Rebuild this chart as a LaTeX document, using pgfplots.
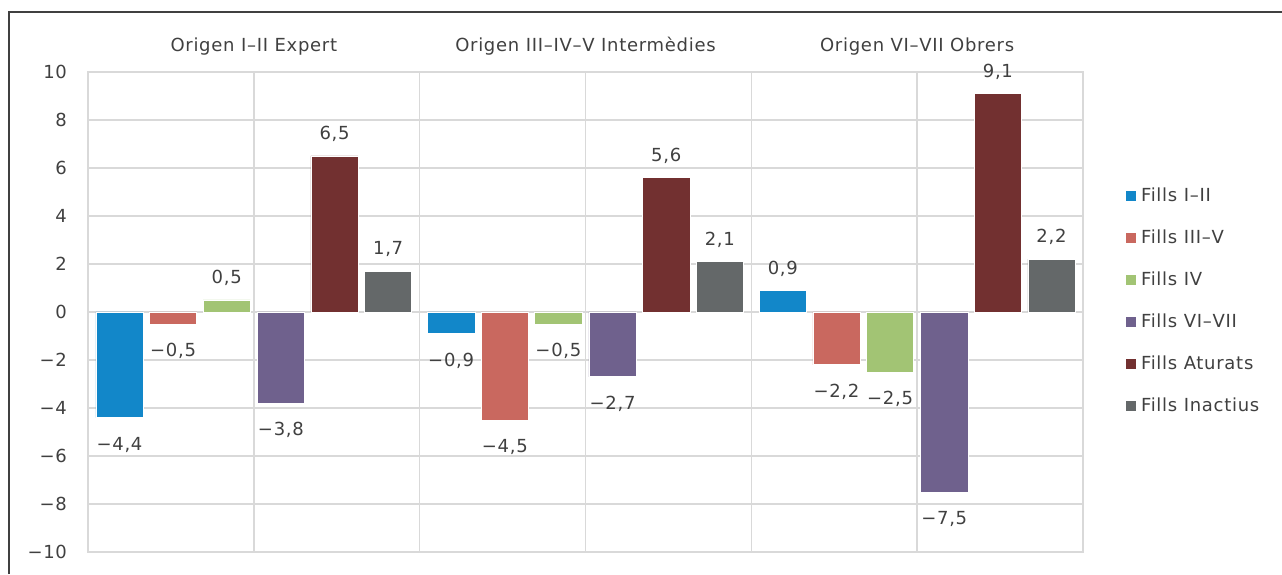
\documentclass[border=0pt]{standalone}
\usepackage{pgfplots}
\pgfplotsset{compat=1.18}
\usepackage{fontspec}
\setmainfont{DejaVu Sans}[LetterSpace=4]
\definecolor{cBlue}{RGB}{18,135,201}
\definecolor{cRed}{RGB}{201,104,95}
\definecolor{cGreen}{RGB}{162,196,116}
\definecolor{cPurple}{RGB}{111,97,141}
\definecolor{cMaroon}{RGB}{114,48,48}
\definecolor{cGray}{RGB}{100,104,105}
\definecolor{cText}{RGB}{64,64,64}
\definecolor{cGrid}{RGB}{217,217,217}
\begin{document}
\begin{tikzpicture}[font=\fontsize{9}{11}\selectfont]
\useasboundingbox (-44pt,-11pt) rectangle (597pt,276pt);
\begin{axis}[
  at={(0pt,0pt)}, anchor=south west,
  scale only axis, width=497.5pt, height=240pt,
  xmin=0, xmax=18, ymin=-10, ymax=10,
  ybar, bar width=0.855, bar shift=0pt,
  ytick={-10,-8,...,10},
  yticklabels={−10,−8,−6,−4,−2,0,2,4,6,8,10},
  xtick={3,6,9,12,15}, xticklabels={},
  major tick length=0pt,
  xmajorgrids, ymajorgrids,
  grid style={cGrid, line width=0.75pt},
  axis line style={cGrid, line width=0.75pt},
  tick label style={text=cText},
  yticklabel style={xshift=-7pt},
  clip=false,
  point meta=explicit symbolic,
  visualization depends on={y \as \rawy},
  nodes near coords,
  every node near coord/.append style={text=cText, inner xsep=0pt, inner ysep=6.5pt,
    anchor=\ifdim\rawy pt<0pt north\else south\fi,
    yshift=\ifdim\rawy pt<0pt -3pt\else 0.5pt\fi},
  legend style={draw=none, fill=none, at={(rel axis cs:1,1)}, anchor=north west,
    xshift=18pt, yshift=-53.5pt, row sep=8.7pt, text=cText,
    /tikz/every even column/.append style={column sep=0pt}},
  legend cell align=left,
  legend image code/.code={\fill[#1] (0pt,-2.75pt) rectangle (5.5pt,2.75pt);},
]
\addplot[fill=cBlue, draw=white, line width=0.3pt] coordinates {(0.57,-4.4) [−4,4] (6.57,-0.9) [−0,9] (12.57,0.9) [0,9]};
\addlegendentry{Fills I–II}
\addplot[fill=cRed, draw=white, line width=0.3pt] coordinates {(1.54,-0.5) [−0,5] (7.54,-4.5) [−4,5] (13.54,-2.2) [−2,2]};
\addlegendentry{Fills III–V}
\addplot[fill=cGreen, draw=white, line width=0.3pt] coordinates {(2.51,0.5) [0,5] (8.51,-0.5) [−0,5] (14.51,-2.5) [−2,5]};
\addlegendentry{Fills IV}
\addplot[fill=cPurple, draw=white, line width=0.3pt] coordinates {(3.49,-3.8) [−3,8] (9.49,-2.7) [−2,7] (15.49,-7.5) [−7,5]};
\addlegendentry{Fills VI–VII}
\addplot[fill=cMaroon, draw=white, line width=0.3pt] coordinates {(4.46,6.5) [6,5] (10.46,5.6) [5,6] (16.46,9.1) [9,1]};
\addlegendentry{Fills Aturats}
\addplot[fill=cGray, draw=white, line width=0.3pt] coordinates {(5.43,1.7) [1,7] (11.43,2.1) [2,1] (17.43,2.2) [2,2]};
\addlegendentry{Fills Inactius}
\node[text=cText, anchor=base] at (axis cs:3,10) [yshift=10pt] {Origen I–II Expert};
\node[text=cText, anchor=base] at (axis cs:9,10) [yshift=10pt] {Origen III–IV–V Intermèdies};
\node[text=cText, anchor=base] at (axis cs:15,10) [yshift=10pt] {Origen VI–VII Obrers};
\end{axis}
\draw[line width=0.75pt, black!75] (-39.5pt,-11pt) -- (-39.5pt,270pt) -- (597pt,270pt);
\end{tikzpicture}
\end{document}
